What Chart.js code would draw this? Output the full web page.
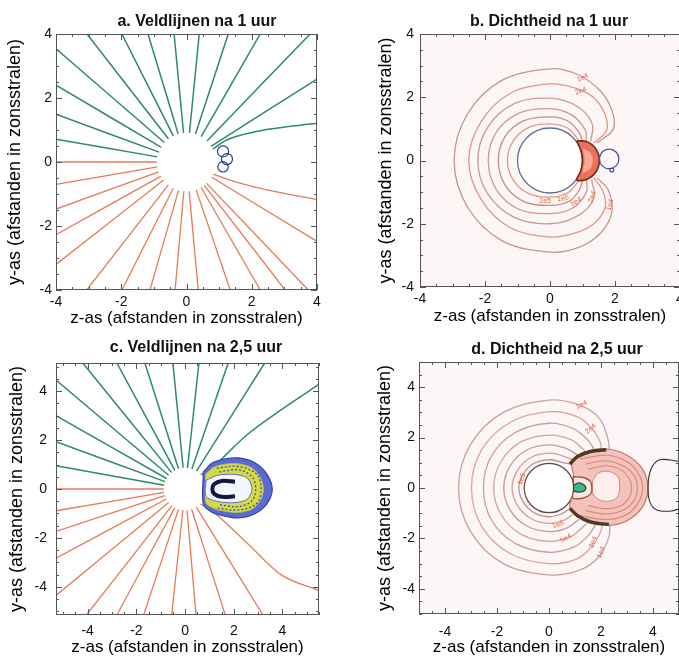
<!DOCTYPE html>
<html>
<head>
<meta charset="utf-8">
<title>Veldlijnen en dichtheid</title>
<script src="https://cdn.jsdelivr.net/npm/chart.js"></script>
<style>
  html, body { margin: 0; padding: 0; background: #fff; }
  body { position: relative; width: 679px; height: 659px; overflow: hidden; }
  canvas { position: absolute; }
</style>
</head>
<body>
<canvas id="chartA" width="330" height="330" style="left:0;top:0"></canvas>
<canvas id="chartB" width="350" height="330" style="left:340px;top:0"></canvas>
<canvas id="chartC" width="330" height="329" style="left:0;top:330px"></canvas>
<canvas id="chartD" width="350" height="329" style="left:340px;top:330px"></canvas>
<script>
const FONT = '"Liberation Sans", Arial, sans-serif';

// ---- a. Veldlijnen na 1 uur ----
const aTicks = [-4, -2, 0, 2, 4];
const aSun = [{ x: 0, y: 0, r: 0.9 }];
const aGreenLines = [
  [[-0.67, 0.60], [-4, 3.54]],
  [[-0.77, 0.46], [-4, 2.40]],
  [[-0.84, 0.31], [-4, 1.49]],
  [[-0.89, 0.16], [-4, 0.71]],
  [[-0.55, 0.72], [-3.05, 4]],
  [[-0.40, 0.81], [-1.98, 4]],
  [[-0.25, 0.86], [-1.18, 4]],
  [[-0.09, 0.90], [-0.38, 4]],
  [[0.09, 0.90], [0.39, 4]],
  [[0.27, 0.86], [1.28, 4]],
  [[0.44, 0.78], [2.26, 4]],
  [[0.62, 0.65], [3.79, 4]],
  [[0.75, 0.49], [4, 2.59]],
  [[0.80, 0.40], [1.3, 0.72], [2.5, 1.02], [4, 1.21]]
];
const aOrangeLines = [
  [[-0.9, 0], [-4, 0]],
  [[-0.89, -0.15], [-4, -0.7]],
  [[-0.85, -0.31], [-4, -1.47]],
  [[-0.78, -0.44], [-4, -2.27]],
  [[-0.70, -0.56], [-4, -3.2]],
  [[-0.55, -0.71], [-3.06, -4]],
  [[-0.40, -0.81], [-1.98, -4]],
  [[-0.24, -0.87], [-1.12, -4]],
  [[-0.08, -0.90], [-0.35, -4]],
  [[0.08, -0.90], [0.36, -4]],
  [[0.29, -0.85], [1.34, -4]],
  [[0.44, -0.78], [2.26, -4]],
  [[0.54, -0.72], [3.02, -4]],
  [[0.61, -0.66], [3.73, -4]],
  [[0.76, -0.47], [4, -2.48]],
  [[0.82, -0.38], [1.5, -0.62], [2.5, -0.88], [4, -1.17]]
];
const aLoops = [
  { x: 1.12, y: 0.33, r: 0.17 },
  { x: 1.24, y: 0.09, r: 0.17 },
  { x: 1.12, y: -0.15, r: 0.16 }
];

// ---- b. Dichtheid na 1 uur ----
const bTicks = [-4, -2, 0, 2, 4];
const bSun = [{ x: 0, y: 0, r: 1.0 }];
const bContours = [
  [[1.45, 0.55], [1.95, 1.0], [1.9, 1.6], [1.55, 2.2], [0.85, 2.72], [0, 2.9], [-1.47, 2.54], [-2.54, 1.47], [-2.95, 0], [-2.54, -1.47], [-1.47, -2.54], [0, -2.9], [0.9, -2.74], [1.55, -2.3], [1.9, -1.65], [1.8, -0.95], [1.45, -0.55]],
  [[1.35, 0.55], [1.74, 0.95], [1.69, 1.47], [1.33, 2.0], [0.75, 2.3], [0, 2.42], [-1.23, 2.12], [-2.12, 1.23], [-2.5, 0], [-2.12, -1.23], [-1.23, -2.12], [0, -2.42], [0.75, -2.3], [1.35, -2.0], [1.7, -1.47], [1.62, -0.95], [1.35, -0.55]],
  [[1.25, 0.6], [1.3, 1.15], [0.85, 1.7], [0, 1.97], [-1.1, 1.8], [-1.92, 1.05], [-2.22, 0], [-1.92, -1.05], [-1.1, -1.8], [0, -2.0], [0.85, -1.75], [1.35, -1.2], [1.28, -0.6]],
  [[1.12, 0.58], [1.08, 0.98], [0.65, 1.45], [0, 1.64], [-0.95, 1.5], [-1.65, 0.9], [-1.9, 0], [-1.65, -0.92], [-0.95, -1.55], [0, -1.68], [0.7, -1.5], [1.12, -1.0], [1.12, -0.58]],
  [[1.0, 0.6], [0.9, 0.88], [0.55, 1.25], [0, 1.38], [-0.8, 1.26], [-1.38, 0.76], [-1.59, 0], [-1.38, -0.78], [-0.8, -1.3], [0, -1.42], [0.6, -1.28], [0.92, -0.9], [1.0, -0.6]],
  [[0.9, 0.62], [0.55, 1.02], [0, 1.16], [-0.65, 1.05], [-1.13, 0.62], [-1.31, 0], [-1.13, -0.62], [-0.65, -1.05], [0, -1.16], [0.55, -1.02], [0.9, -0.62]]
];
const bContourColors = ['#c39593', '#e49682', '#c89a92', '#d5968a', '#c78e88', '#d99c8e'];
const bCrescent = [[0.82, 0.62], [1.12, 0.6], [1.4, 0.38], [1.52, 0], [1.4, -0.38], [1.12, -0.6], [0.82, -0.62], [0.95, -0.32], [1.0, 0], [0.95, 0.32], [0.82, 0.62]];
const bCrescentCore = [[1.02, 0.38], [1.25, 0.24], [1.32, 0], [1.25, -0.24], [1.02, -0.38], [1.06, 0], [1.02, 0.38]];
const bLoops = [{ x: 1.82, y: 0.05, r: 0.3 }, { x: 1.9, y: -0.3, r: 0.06 }];
const bLabels = [['1e4', 1.0, 2.62, -25], ['2e4', 0.95, 2.2, -20], ['2e5', -0.15, -1.27, 0], ['1e5', 0.4, -1.2, -10], ['5e4', 0.8, -1.3, -30], ['2e4', 1.3, -1.15, -70], ['1e4', 1.85, -1.4, -75]];

// ---- c. Veldlijnen na 2,5 uur ----
const cTicks = [-4, -2, 0, 2, 4];
const cSun = [{ x: 0, y: 0, r: 0.87 }];
const cGreenLines = [
  [[-0.67, 0.56], [-5.3, 4.45]],
  [[-0.76, 0.43], [-5.3, 3.0]],
  [[-0.82, 0.30], [-5.3, 1.93]],
  [[-0.86, 0.15], [-5.3, 0.95]],
  [[-0.55, 0.67], [-4.2, 5.15]],
  [[-0.42, 0.76], [-2.8, 5.15]],
  [[-0.27, 0.83], [-1.65, 5.15]],
  [[-0.08, 0.87], [-0.5, 5.15]],
  [[0.10, 0.86], [0.57, 5.15]],
  [[0.28, 0.82], [1.77, 5.15]],
  [[0.47, 0.73], [3.27, 5.15]],
  [[0.65, 0.58], [1.2, 0.95], [2.65, 2.3], [5.5, 4.29]]
];
const cOrangeLines = [
  [[-0.87, 0], [-5.3, 0]],
  [[-0.86, -0.14], [-5.3, -0.89]],
  [[-0.83, -0.27], [-5.3, -1.73]],
  [[-0.77, -0.41], [-5.3, -2.83]],
  [[-0.67, -0.55], [-5.3, -4.35]],
  [[-0.54, -0.68], [-4.05, -5.15]],
  [[-0.42, -0.76], [-2.8, -5.15]],
  [[-0.27, -0.83], [-1.7, -5.15]],
  [[-0.09, -0.86], [-0.55, -5.15]],
  [[0.08, -0.87], [0.45, -5.15]],
  [[0.27, -0.83], [1.65, -5.15]],
  [[0.46, -0.74], [3.2, -5.15]],
  [[0.62, -0.6], [1.3, -1.05], [2.65, -2.31], [4.0, -3.54], [5.5, -4.15]]
];
const cBlobBlue = [[0.75, 0.7], [1.1, 1.05], [1.6, 1.22], [2.2, 1.27], [2.85, 1.08], [3.35, 0.62], [3.58, 0], [3.35, -0.62], [2.85, -1.02], [2.2, -1.18], [1.6, -1.1], [1.1, -0.95], [0.75, -0.62], [0.75, 0.7]];
const cBlobYellow = [[0.85, 0.62], [1.2, 0.9], [1.7, 1.02], [2.2, 1.03], [2.75, 0.86], [3.1, 0.45], [3.22, 0], [3.1, -0.45], [2.75, -0.82], [2.2, -0.96], [1.7, -0.92], [1.2, -0.8], [0.85, -0.55], [0.85, 0.62]];
const cBlobRings = [
  [[1.3, 0.85], [2.2, 0.92], [2.95, 0.6], [3.12, 0], [2.95, -0.58], [2.2, -0.86], [1.3, -0.78]],
  [[1.4, 0.7], [2.2, 0.78], [2.75, 0.5], [2.9, 0], [2.75, -0.48], [2.2, -0.72], [1.4, -0.64]]
];
const cBlobInner = [[0.86, 0.35], [1.3, 0.55], [2.0, 0.6], [2.55, 0.45], [2.75, 0], [2.55, -0.42], [2.0, -0.56], [1.3, -0.5], [0.86, -0.3], [0.86, 0.35]];
const cHorseshoe = [[2.05, 0.3], [1.5, 0.33], [1.2, 0.2], [1.12, 0], [1.2, -0.2], [1.5, -0.32], [2.05, -0.3]];

// ---- d. Dichtheid na 2,5 uur ----
const dTicks = [-4, -2, 0, 2, 4];
const dSun = [{ x: 0, y: 0, r: 0.95 }];
const dContours = [
  [[2.32, 1.55], [2.26, 1.97], [1.94, 2.76], [1.2, 3.28], [0, 3.49], [-1.74, 3.01], [-3.01, 1.74], [-3.48, 0], [-3.01, -1.74], [-1.74, -3.01], [0, -3.45], [1.2, -3.25], [1.95, -2.7], [2.3, -1.95], [2.35, -1.48]],
  [[2.0, 1.55], [2.0, 1.75], [1.7, 2.3], [1.1, 2.82], [0, 3.03], [-1.5, 2.6], [-2.6, 1.5], [-2.98, 0], [-2.6, -1.5], [-1.5, -2.6], [0, -3.0], [1.1, -2.8], [1.7, -2.25], [2.0, -1.7], [2.05, -1.47]],
  [[1.75, 1.5], [1.5, 1.9], [0.95, 2.35], [0, 2.57], [-1.28, 2.21], [-2.21, 1.28], [-2.52, 0], [-2.21, -1.28], [-1.28, -2.21], [0, -2.55], [0.95, -2.35], [1.5, -1.9], [1.8, -1.45]],
  [[1.45, 1.4], [1.3, 1.55], [0.85, 1.92], [0, 2.1], [-1.06, 1.84], [-1.84, 1.06], [-2.13, 0], [-1.84, -1.06], [-1.06, -1.84], [0, -2.12], [0.85, -1.92], [1.3, -1.55], [1.5, -1.38]],
  [[1.1, 1.3], [0.7, 1.55], [0, 1.71], [-0.87, 1.5], [-1.5, 0.87], [-1.74, 0], [-1.5, -0.87], [-0.87, -1.5], [0, -1.73], [0.7, -1.58], [1.15, -1.25]],
  [[0.95, 1.1], [0.6, 1.25], [0, 1.38], [-0.7, 1.21], [-1.21, 0.7], [-1.42, 0], [-1.21, -0.7], [-0.7, -1.21], [0, -1.4], [0.6, -1.27], [0.9, -1.05]],
  [[0.8, 0.95], [0.5, 1.02], [0, 1.12], [-0.57, 0.98], [-0.98, 0.57], [-1.16, 0], [-0.98, -0.57], [-0.57, -0.98], [0, -1.14], [0.5, -1.02], [0.75, -0.85]]
];
const dContourColors = ['#c9a0a6', '#e0a2a2', '#c79ca2', '#d9a0a0', '#c6989c', '#d89c9c', '#b98e92'];
const dBlobOuter = [[0.85, 1.0], [1.3, 1.4], [2.2, 1.55], [3.0, 1.3], [3.6, 0.75], [3.82, 0], [3.6, -0.75], [3.0, -1.3], [2.3, -1.48], [1.4, -1.3], [0.8, -0.8], [1.0, 0], [0.85, 1.0]];
const dBlobRings = [
  [[1.2, 1.15], [2.2, 1.3], [3.0, 1.05], [3.45, 0.55], [3.6, 0], [3.45, -0.55], [3.0, -1.05], [2.2, -1.25], [1.2, -1.1]],
  [[1.4, 0.95], [2.2, 1.08], [2.9, 0.85], [3.3, 0.45], [3.4, 0], [3.3, -0.45], [2.9, -0.85], [2.2, -1.03], [1.4, -0.9]],
  [[1.5, 0.75], [2.2, 0.88], [2.8, 0.7], [3.1, 0.35], [3.18, 0], [3.1, -0.35], [2.8, -0.68], [2.2, -0.82], [1.5, -0.7]]
];
const dBlobInner = [[1.68, 0.3], [1.9, 0.6], [2.3, 0.66], [2.65, 0.45], [2.72, 0], [2.6, -0.4], [2.25, -0.53], [1.9, -0.45], [1.68, -0.2], [1.68, 0.3]];
const dGap = [[0.92, 0.45], [1.3, 0.42], [1.6, 0.25], [1.62, -0.2], [1.3, -0.4], [0.92, -0.4], [0.96, 0], [0.92, 0.45]];
const dGreenSpot = [[0.95, 0.12], [1.15, 0.2], [1.35, 0.12], [1.42, 0], [1.35, -0.12], [1.15, -0.16], [0.95, -0.1], [0.95, 0.12]];
const dRimTop = [[0.8, 0.95], [1.1, 1.25], [1.6, 1.45], [2.2, 1.52]];
const dRimBottom = [[0.8, -0.8], [1.1, -1.1], [1.6, -1.35], [2.3, -1.45]];
const dRightLoop = [[5.1, 1.0], [4.9, 1.07], [4.26, 1.12], [3.94, 0.79], [3.81, 0.13], [3.87, -0.53], [4.13, -0.86], [4.65, -0.92], [5.1, -0.8]];
const dLabels = [['1e4', 1.25, 3.3, -25], ['2e4', 1.6, 2.35, -40], ['1e5', -1.05, 0.35, -70], ['1e5', 0.35, -1.45, -20], ['5e4', 0.65, -2.0, -30], ['2e4', 1.7, -2.15, -70], ['1e4', 2.0, -2.55, -70]];

// ---------- helpers ----------
function pts(list) { return list.map(p => ({ x: p[0], y: p[1] })); }

function line(list, color, width, extra) {
  return Object.assign({
    data: pts(list), showLine: true, pointRadius: 0, borderColor: color,
    borderWidth: width, fill: false, tension: 0.35
  }, extra || {});
}

function shape(list, fillColor, borderColor, width) {
  return line(list, borderColor, width, { fill: 'shape', backgroundColor: fillColor, tension: 0.3 });
}

function circles(items, color, width, bg) {
  return {
    data: items.map(c => ({ x: c.x, y: c.y, r: c.r })),
    showLine: false, pointStyle: 'circle', borderColor: color, borderWidth: width,
    backgroundColor: bg || 'rgba(0,0,0,0)',
    pointRadius: ctx => {
      const s = ctx.chart.scales.x;
      const raw = ctx.raw || { r: 0 };
      return Math.abs(s.getPixelForValue(raw.r) - s.getPixelForValue(0));
    }
  };
}

function panelPlugin(p) {
  return {
    id: 'panel' + p.name,
    beforeDatasetsDraw(chart) {
      const { ctx, chartArea: a } = chart;
      ctx.save();
      ctx.fillStyle = p.bg;
      ctx.fillRect(a.left, a.top, a.width, a.height);
      ctx.restore();
    },
    afterDatasetsDraw(chart) {
      const { ctx, chartArea: a, scales: { x, y } } = chart;
      ctx.save();
      ctx.fillStyle = '#e2643f';
      ctx.font = '7px ' + FONT;
      ctx.textAlign = 'center';
      ctx.textBaseline = 'middle';
      (p.labels || []).forEach(l => {
        ctx.save();
        ctx.translate(x.getPixelForValue(l[1]), y.getPixelForValue(l[2]));
        ctx.rotate(l[3] * Math.PI / 180);
        ctx.fillText(l[0], 0, 0);
        ctx.restore();
      });
      // frame with inward ticks
      ctx.strokeStyle = '#555';
      ctx.lineWidth = 1;
      ctx.strokeRect(a.left + 0.5, a.top + 0.5, a.width - 1, a.height - 1);
      ctx.beginPath();
      const mark = (v, len, horiz) => {
        if (horiz) {
          const px = Math.round(x.getPixelForValue(v)) + 0.5;
          ctx.moveTo(px, a.bottom); ctx.lineTo(px, a.bottom - len);
          ctx.moveTo(px, a.top); ctx.lineTo(px, a.top + len);
        } else {
          const py = Math.round(y.getPixelForValue(v)) + 0.5;
          ctx.moveTo(a.left, py); ctx.lineTo(a.left + len, py);
          ctx.moveTo(a.right, py); ctx.lineTo(a.right - len, py);
        }
      };
      [[x, true], [y, false]].forEach(([s, horiz]) => {
        for (let v = Math.ceil(s.min / 0.5) * 0.5; v <= s.max + 1e-9; v += 0.5) mark(v, 3, horiz);
        p.ticks.forEach(v => mark(v, 6, horiz));
      });
      ctx.stroke();
      ctx.restore();
    },
    afterDraw(chart) {
      const { ctx } = chart;
      ctx.save();
      ctx.fillStyle = '#111';
      ctx.font = 'bold 16px ' + FONT;
      ctx.textAlign = 'center';
      ctx.textBaseline = 'middle';
      ctx.fillText(p.title, p.titleX, p.titleY);
      ctx.restore();
    }
  };
}

function makePanel(id, p) {
  const datasets = p.datasets.map((d, i) => Object.assign(d, { order: -i }));
  return new Chart(document.getElementById(id), {
    type: 'scatter',
    data: { datasets },
    options: {
      responsive: false,
      animation: false,
      events: [],
      layout: { padding: { top: p.top, right: p.right, left: 0, bottom: 0 } },
      plugins: { legend: { display: false }, tooltip: { enabled: false } },
      scales: {
        x: {
          type: 'linear', min: p.x[0], max: p.x[1],
          afterBuildTicks: s => { s.ticks = p.ticks.map(v => ({ value: v })); },
          afterFit: s => { s.height = p.xH; },
          ticks: { color: '#111', font: { size: 14, family: FONT }, padding: p.xTickPad, maxRotation: 0, autoSkip: false },
          grid: { display: false, drawTicks: false },
          border: { display: false },
          title: { display: true, text: 'z-as (afstanden in zonsstralen)', color: '#000', font: { size: 17, family: FONT }, padding: { top: 0, bottom: p.xTitlePad } }
        },
        y: {
          type: 'linear', min: p.y[0], max: p.y[1],
          afterBuildTicks: s => { s.ticks = p.ticks.map(v => ({ value: v })); },
          afterFit: s => { s.width = p.yW; },
          ticks: { color: '#111', font: { size: 14, family: FONT }, padding: p.yTickPad, autoSkip: false },
          grid: { display: false, drawTicks: false },
          border: { display: false },
          title: { display: true, text: 'y-as (afstanden in zonsstralen)', color: '#000', font: { size: 18, family: FONT }, padding: { top: p.yTitlePad, bottom: 0 } }
        }
      }
    },
    plugins: [panelPlugin(p)]
  });
}

const GREEN = '#2e8a68';
const ORANGE = '#e57c56';

// panel a
makePanel('chartA', {
  name: 'A', title: 'a. Veldlijnen na 1 uur', titleX: 197, titleY: 22,
  x: [-4, 4], y: [-4, 4], ticks: aTicks, bg: '#ffffff',
  top: 34, right: 13, yW: 56, xH: 40, xTickPad: 4, yTickPad: 4, xTitlePad: 1, yTitlePad: 4,
  datasets: [
    ...aGreenLines.map(l => line(l, GREEN, 1.5)),
    ...aOrangeLines.map(l => line(l, ORANGE, 1.3)),
    circles(aSun, '#ffffff', 0, '#ffffff'),
    circles(aLoops, '#2b3a8c', 1.2)
  ]
});

// panel b
makePanel('chartB', {
  name: 'B', title: 'b. Dichtheid na 1 uur', titleX: 209, titleY: 22,
  x: [-4, 4], y: [-4, 4], ticks: bTicks, bg: '#fdf6f6', labels: bLabels,
  top: 34, right: 10, yW: 80, xH: 43, xTickPad: 4, yTickPad: 6, xTitlePad: 3, yTitlePad: 35,
  datasets: [
    ...bContours.map((l, i) => line(l, bContourColors[i], 1.3)),
    circles(bSun, '#5d7290', 1.3, '#ffffff'),
    shape(bCrescent, '#e8735c', '#6e2a1c', 1.6),
    shape(bCrescentCore, '#f9a896', '#f28a76', 0.8),
    circles(bLoops, '#4050a0', 1.2)
  ]
});

// panel c
makePanel('chartC', {
  name: 'C', title: 'c. Veldlijnen na 2,5 uur', titleX: 196, titleY: 18,
  x: [-5.3, 5.5], y: [-5.15, 5.15], ticks: cTicks, bg: '#ffffff',
  top: 33, right: 11, yW: 56, xH: 44, xTickPad: 8, yTickPad: 9, xTitlePad: 1, yTitlePad: 6,
  datasets: [
    ...cGreenLines.map(l => line(l, GREEN, 1.5)),
    ...cOrangeLines.map(l => line(l, ORANGE, 1.3)),
    circles(cSun, '#ffffff', 0, '#ffffff'),
    shape(cBlobBlue, '#5a6ad2', '#3342b0', 1.2),
    shape(cBlobYellow, '#d6da42', '#b8c040', 0.8),
    ...cBlobRings.map(l => line(l, '#3b4cc0', 1.3, { borderDash: [2, 2] })),
    shape(cBlobInner, '#f4f6ff', '#5a6ad2', 1),
    line(cHorseshoe, '#15153e', 4)
  ]
});

// panel d
makePanel('chartD', {
  name: 'D', title: 'd. Dichtheid na 2,5 uur', titleX: 217, titleY: 20,
  x: [-5, 5], y: [-5, 5], ticks: dTicks, bg: '#fdf6f6', labels: dLabels,
  top: 32, right: 11, yW: 79, xH: 45, xTickPad: 10, yTickPad: 4, xTitlePad: 1, yTitlePad: 34,
  datasets: [
    ...dContours.map((l, i) => line(l, dContourColors[i], 1.3)),
    circles(dSun, '#5a4a48', 1.2, '#ffffff'),
    shape(dBlobOuter, '#f3c2ba', '#c9786e', 1.2),
    ...dBlobRings.map(l => line(l, '#d8867c', 1.1)),
    shape(dBlobInner, '#fbeeed', '#d8867c', 1),
    shape(dGap, '#fbe6e2', '#8a4a36', 1.2),
    shape(dGreenSpot, '#3bb585', '#1f4a30', 1.2),
    line(dRimTop, '#4c3a22', 3.5),
    line(dRimBottom, '#4c3a22', 3.5),
    line(dRightLoop, '#333333', 1.1)
  ]
});
</script>
</body>
</html>
